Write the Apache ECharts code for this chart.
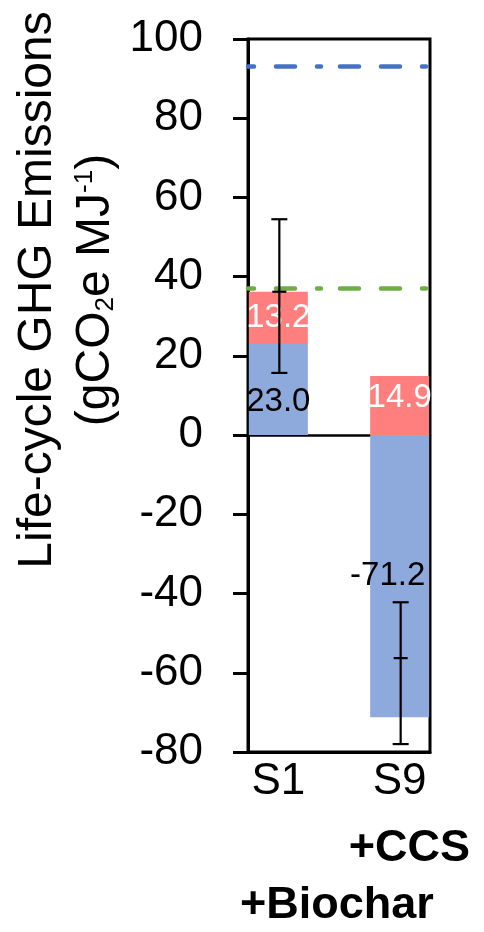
<!DOCTYPE html>
<html>
<head>
<meta charset="utf-8">
<script src="https://cdn.jsdelivr.net/npm/echarts@6/dist/echarts.min.js"></script>
<style>
html,body{margin:0;padding:0;background:#fff;}
#chart{width:484px;height:932px;}
</style>
</head>
<body>
<div id="chart"></div>
<script>
// ---- data ----
var categories = ['S1', '', 'S9'];
var baseValues = [23.0, null, -71.2];      // blue segment
var addValues = [13.2, null, 14.9];        // red segment
var errCenter = [36.2, null, -56.3];
var errLow = [15.7, null, -78.0];
var errHigh = [54.5, null, -42.2];
var refBlue = 93;     // blue dash-dot reference
var refGreen = 37.1;  // green dashed reference
var yTicks = {min: -80, max: 100, interval: 20};
var titleLine1 = 'Life-cycle GHG Emissions';
var titleLine2 = [['(gCO', 'n'], ['2', 'sub'], ['e MJ', 'n'], ['-1', 'sup'], [')', 'n']];
var noteLabels = ['+CCS', '+Biochar'];

// ---- styles ----
var FONT = '"Liberation Sans", Arial, sans-serif';
var BLUE = '#8EA9DB', RED = '#FF7F7F';
var baseLabelOffset = [[0, 12], null, [-12, 0]];
var addLabelOffset = [[0, 0], null, [0, -8]];
var baseLabelColor = '#000', addLabelColor = '#fff';

function buildBar(values, offsets, color) {
  return values.map(function (v, i) {
    if (v === null) return null;
    return {value: v, label: {offset: offsets[i], color: color}};
  });
}

var errData = [];
for (var i = 0; i < categories.length; i++) {
  if (errCenter[i] !== null) errData.push([i, errCenter[i], errLow[i], errHigh[i]]);
}

// measure text for rotated title
var mc = document.createElement('canvas').getContext('2d');
function tw(text, size, weight) {
  mc.font = (weight || 'normal') + ' ' + size + 'px ' + FONT;
  return mc.measureText(text).width;
}
var MAIN = 48, SMALL = 26;
var partsW = titleLine2.map(function (p) { return tw(p[0], p[1] === 'n' ? MAIN : SMALL); });
var totalW = partsW.reduce(function (a, b) { return a + b; }, 0);
var line2Children = [];
var cx = -totalW / 2;
var BASE2 = 110, BASE1 = 52;
titleLine2.forEach(function (p, k) {
  var size = p[1] === 'n' ? MAIN : SMALL;
  var base = BASE2 + (p[1] === 'sub' ? 3 : (p[1] === 'sup' ? -18 : 0));
  line2Children.push({
    type: 'text',
    x: cx, y: base + size * 0.21,
    style: {text: p[0], font: size + 'px ' + FONT, fill: '#000', align: 'left', verticalAlign: 'bottom'}
  });
  cx += partsW[k];
});

var chart = echarts.init(document.getElementById('chart'), null, {renderer: 'canvas'});
var option = {
  animation: false,
  backgroundColor: '#fff',
  grid: {left: 248, right: 54, top: 39, bottom: 180, show: true, borderColor: '#000', borderWidth: 3, backgroundColor: 'transparent'},
  xAxis: [{
    type: 'category', data: categories,
    axisLine: {onZero: true, lineStyle: {color: '#000', width: 2.5}},
    axisTick: {show: false}, axisLabel: {show: false}
  }, {
    type: 'category', data: categories, position: 'bottom',
    axisLine: {onZero: false, lineStyle: {color: '#000', width: 3}},
    axisTick: {show: false},
    axisLabel: {show: true, color: '#000', fontFamily: FONT, fontSize: 44, margin: 8}
  }],
  yAxis: {
    type: 'value', min: yTicks.min, max: yTicks.max, interval: yTicks.interval,
    axisLine: {show: true, lineStyle: {color: '#000', width: 3}},
    axisTick: {show: true, inside: false, length: 15, lineStyle: {color: '#000', width: 3}},
    axisLabel: {color: '#000', fontFamily: FONT, fontSize: 44, margin: 45},
    splitLine: {show: false}
  },
  series: [{
    type: 'bar', stack: 'total', barWidth: 59, itemStyle: {color: BLUE},
    data: buildBar(baseValues, baseLabelOffset, baseLabelColor),
    label: {show: true, position: 'inside', fontFamily: FONT, fontSize: 33,
      formatter: function (p) { return p.value.toFixed(1); }},
    markLine: {
      silent: true, symbol: 'none', label: {show: false},
      lineStyle: {width: 4.5, cap: 'round', type: [19, 22, 19, 22, 4, 19], dashOffset: 13},
      data: [
        {yAxis: refBlue, lineStyle: {color: '#4472C4'}},
        {yAxis: refGreen, lineStyle: {color: '#70AD47'}}
      ]
    }
  }, {
    type: 'bar', stack: 'total', barWidth: 59, itemStyle: {color: RED},
    data: buildBar(addValues, addLabelOffset, addLabelColor),
    label: {show: true, position: 'inside', fontFamily: FONT, fontSize: 33,
      formatter: function (p) { return p.value.toFixed(1); }}
  }, {
    type: 'custom', z: 10,
    data: errData,
    renderItem: function (params, api) {
      var x = api.value(0);
      var c = api.coord([x, api.value(1)]);
      var lo = api.coord([x, api.value(2)]);
      var hi = api.coord([x, api.value(3)]);
      var px = c[0] + 1;
      var st = {stroke: '#000', lineWidth: 2.2};
      return {type: 'group', children: [
        {type: 'line', shape: {x1: px, y1: hi[1], x2: px, y2: lo[1]}, style: st},
        {type: 'line', shape: {x1: px - 8, y1: hi[1], x2: px + 8, y2: hi[1]}, style: st},
        {type: 'line', shape: {x1: px - 8, y1: lo[1], x2: px + 8, y2: lo[1]}, style: st},
        {type: 'line', shape: {x1: px - 7, y1: c[1], x2: px + 7, y2: c[1]}, style: st}
      ]};
    }
  }],
  graphic: [{
    type: 'group', x: 0, y: 290, rotation: Math.PI / 2,
    children: [{
      type: 'text', x: 0, y: BASE1 + MAIN * 0.21,
      style: {text: titleLine1, font: MAIN + 'px ' + FONT, fill: '#000', align: 'center', verticalAlign: 'bottom'}
    }].concat(line2Children)
  }, {
    type: 'text', right: 14, top: 826,
    style: {text: noteLabels[0], font: 'bold 45px ' + FONT, fill: '#000'}
  }, {
    type: 'text', left: 240, top: 883,
    style: {text: noteLabels[1], font: 'bold 45px ' + FONT, fill: '#000'}
  }]
};
chart.setOption(option);
</script>
</body>
</html>
